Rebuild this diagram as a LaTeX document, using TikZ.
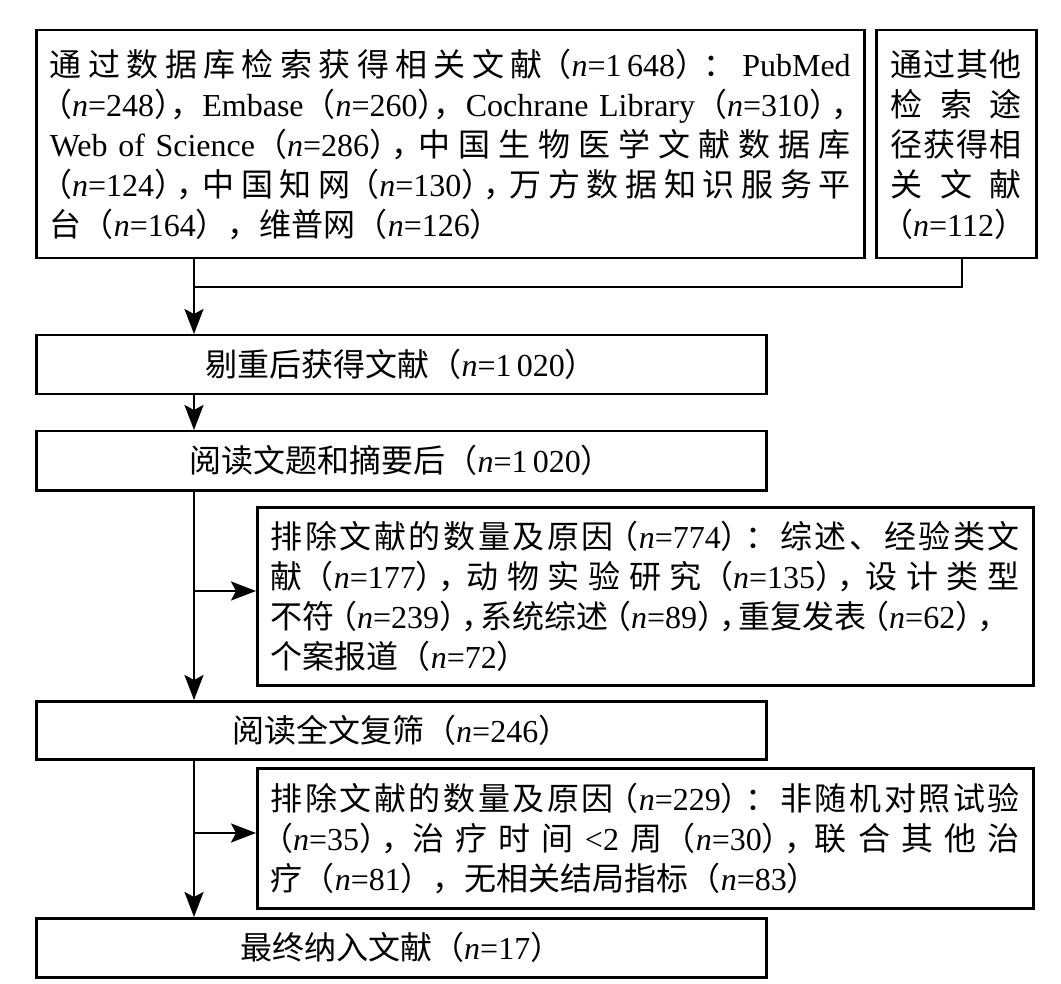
\documentclass[tikz,border=0pt]{standalone}
\usepackage{fontspec}
\setmainfont{Liberation Serif}
\newfontfamily\cjk{Noto Sans CJK SC}
\newfontfamily\cjkh[RawFeature=+halt]{Noto Sans CJK SC}
\usetikzlibrary{arrows.meta}
\newcommand\C[1]{{\cjk #1}}
\newcommand\g{\hskip 0pt plus 1fill\relax}
\makeatletter
\def\spr#1{\spr@a#1\relax\relax}
\def\spr@a#1#2{{\cjk #1}\ifx\relax#2\else\g\expandafter\spr@a\expandafter#2\fi}
\makeatother
\newcommand\lpf{{\cjk （}}
\newcommand\rpf{{\cjk ）}}
\newcommand\lpc{\hspace{0.2em}{\cjkh （}}
\newcommand\rpc{{\cjkh ）}\hspace{0.2em}}
\newcommand\cm{{\cjkh ，}\hspace{0.1em}}
\newcommand\nn[1]{\lpf\textit{n}=#1\rpf}
\newcommand\nc[1]{\lpc\textit{n}=#1\rpc}
\newcommand\nl[1]{\lpf\textit{n}=#1\rpc}
\newcommand\ncx[1]{\lpc\textit{n}=#1{\cjkh ）}\C{，}}
\newcommand\nlx[1]{\lpf\textit{n}=#1{\cjkh ）}\C{，}}
\begin{document}
\begin{tikzpicture}[x=1pt,y=-1pt,
  box/.style={draw, line width=2.5pt, inner sep=0pt, anchor=north west,
    font=\fontsize{32}{40}\selectfont, align=left},
  conn/.style={line width=2.5pt},
  arr/.style={line width=2.5pt, -{Stealth[length=25pt,width=19pt,inset=5pt]}}]
\useasboundingbox (0,0) rectangle (1061,984);
\node[box, minimum width=828pt, minimum height=228pt, text width=801pt] (b1) at (35,29) {%
\makebox[801pt][s]{\spr{通过数据库检索获得相关文献}\g\nc{1\,648}\g\C{：}\g PubMed}\\
\makebox[801pt][s]{\ncx{248}\g Embase\nlx{260}\g Cochrane Library\nl{310}\cm}\\
\makebox[801pt][s]{Web of Science\nl{286}\cm\g\spr{中国生物医学文献数据库}}\\
\makebox[801pt][s]{\nc{124}\cm\g\spr{中国知网}\g\nc{130}\cm\g\spr{万方数据知识服务平}}\\
\C{台}\nn{164}\C{，}\C{维普网}\nn{126}};
\node[box, minimum width=160pt, minimum height=228pt, text width=131pt] (b2) at (875,29) {%
\makebox[131pt][s]{\spr{通过其他}}\\
\makebox[131pt][s]{\spr{检索途}}\\
\makebox[131pt][s]{\spr{径获得相}}\\
\makebox[131pt][s]{\spr{关文献}}\\
\nc{112}};
\node[box, minimum width=730pt, minimum height=59pt] (b3) at (35,334) {\C{剔重后获得文献}\nn{1\,020}};
\node[box, minimum width=730pt, minimum height=59pt] (b4) at (35,430) {\C{阅读文题和摘要后}\nn{1\,020}};
\node[box, minimum width=776pt, minimum height=178pt, text width=749pt] (b5) at (256,506) {%
\makebox[749pt][s]{\spr{排除文献的数量及原因}\g\nc{774}\g\C{：}\g\spr{综述、经验类文}}\\
\makebox[749pt][s]{\C{献}\g\nc{177}\cm\g\spr{动物实验研究}\g\nc{135}\cm\g\spr{设计类型}}\\
\makebox[749pt][s]{\C{不符}\nc{239}\cm\C{系统综述}\nc{89}\cm\C{重复发表}\nc{62}\cm}\\
\C{个案报道}\nn{72}};
\node[box, minimum width=730pt, minimum height=58pt] (b6) at (35,700) {\C{阅读全文复筛}\nn{246}};
\node[box, minimum width=776pt, minimum height=140pt, text width=749pt] (b7) at (256,767) {%
\makebox[749pt][s]{\spr{排除文献的数量及原因}\g\nc{229}\g\C{：}\g\spr{非随机对照试验}}\\
\makebox[749pt][s]{\nc{35}\cm\g\spr{治疗时间}\g<2\g\C{周}\g\nc{30}\cm\g\spr{联合其他治}}\\
\C{疗}\nn{81}\C{，}\C{无相关结局指标}\nn{83}};
\node[box, minimum width=730pt, minimum height=59pt] (b8) at (35,917) {\C{最终纳入文献}\nn{17}};
\coordinate (j1) at (194,287);
\coordinate (k1) at (962,287);
\coordinate (j2) at (194,591);
\coordinate (j3) at (194,833);
\draw[arr] (b1.south -| j1) -- (b3.north -| j1);
\draw[conn] (b2.south -| k1) -- (k1) -- (j1);
\draw[arr] (b3.south -| j1) -- (b4.north -| j1);
\draw[arr] (b4.south -| j1) -- (b6.north -| j1);
\draw[arr] (j2) -- (b5.west |- j2);
\draw[arr] (b6.south -| j1) -- (b8.north -| j1);
\draw[arr] (j3) -- (b7.west |- j3);
\end{tikzpicture}
\end{document}
